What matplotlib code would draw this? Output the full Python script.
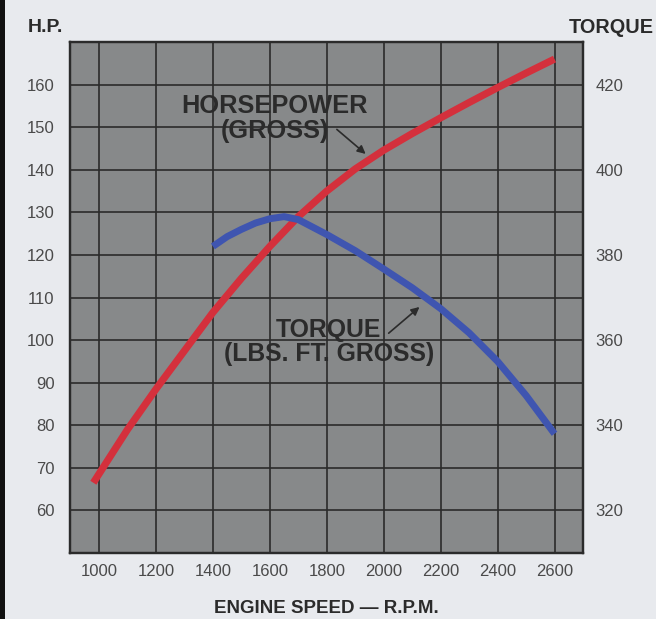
import matplotlib
matplotlib.use("Agg")
from matplotlib import pyplot as plt
from matplotlib.patches import Rectangle

plt.rcParams['font.family'] = ['Liberation Sans', 'DejaVu Sans']

# horsepower (gross) vs engine speed
hp_rpm = [980, 1100, 1200, 1300, 1400, 1500, 1600, 1700, 1800, 1900,
          2000, 2100, 2200, 2300, 2400, 2500, 2600]
hp_vals = [66.5, 79, 88.5, 97.5, 106.5, 114.5, 122, 129, 135, 140.2,
           144.6, 148.5, 152.2, 155.8, 159.3, 162.7, 166]

# torque (lbs. ft. gross) vs engine speed
tq_rpm = [1400, 1450, 1500, 1550, 1600, 1650, 1700, 1800, 1900, 2000,
          2100, 2200, 2300, 2400, 2500, 2600]
tq_vals = [382, 384.3, 386, 387.5, 388.5, 389, 388.3, 384.8, 381, 376.7,
           372.3, 367.4, 361.7, 355, 347, 338]

x_ticks = [1000, 1200, 1400, 1600, 1800, 2000, 2200, 2400, 2600]
hp_ticks = [60, 70, 80, 90, 100, 110, 120, 130, 140, 150, 160]
tq_ticks = [320, 340, 360, 380, 400, 420]

bg = '#e8eaee'
plot_bg = '#87898a'
ink = '#2b2b2b'
tick_col = '#4a4a4a'

fig = plt.figure(figsize=(6.56, 6.19), dpi=100, facecolor=bg)
ax = fig.add_axes([0.1067, 0.1066, 0.7820, 0.8255])
ax.set_facecolor(plot_bg)
ax2 = ax.twinx()

# dark strip on the left edge of the scan
fig.patches.append(Rectangle((0, 0), 0.008, 1, transform=fig.transFigure,
                             facecolor='#111111', edgecolor='none'))

ax.plot(hp_rpm, hp_vals, color='#d4303c', lw=5.2, solid_capstyle='butt',
        solid_joinstyle='round', zorder=3)
ax2.plot(tq_rpm, tq_vals, color='#3f55b0', lw=5.0, solid_capstyle='butt',
         solid_joinstyle='round', zorder=3)

ax.set_xlim(898, 2700)
ax.set_ylim(50, 170)
ax2.set_ylim(310, 430)

ax.set_xticks(x_ticks)
ax.set_yticks(hp_ticks)
ax2.set_yticks(tq_ticks)
ax.grid(True, color=ink, lw=1.2)

ax.tick_params(axis='x', length=0, pad=8, labelsize=12, labelcolor=tick_col)
ax.tick_params(axis='y', length=0, pad=11, labelsize=12, labelcolor=tick_col)
ax2.tick_params(axis='y', length=0, pad=9, labelsize=12, labelcolor=tick_col)

for a in (ax, ax2):
    for s in a.spines.values():
        s.set_color(ink)
        s.set_linewidth(1.6)

ax.text(1618, 152.1, 'HORSEPOWER\n(GROSS)', ha='center', va='center',
        multialignment='center', fontsize=18.3, fontweight='bold',
        color=ink, linespacing=1.05, zorder=5)
ax.annotate('', xy=(1944, 143.3), xytext=(1828, 149.9),
            arrowprops=dict(arrowstyle='-|>', color=ink, lw=1.2,
                            mutation_scale=12))

ax2.text(1807, 359.6, 'TORQUE\n(LBS. FT. GROSS)', ha='center', va='center',
         multialignment='center', fontsize=17.8, fontweight='bold',
         color=ink, linespacing=1.0, zorder=5)
ax2.annotate('', xy=(2133, 368.2), xytext=(2010, 361.2),
             arrowprops=dict(arrowstyle='-|>', color=ink, lw=1.2,
                             mutation_scale=12))

fig.text(0.043, 0.955, 'H.P.', ha='left', va='center', fontsize=14,
         fontweight='bold', color=ink)
fig.text(0.996, 0.955, 'TORQUE', ha='right', va='center', fontsize=14.3,
         fontweight='bold', color=ink)
fig.text(0.498, 0.003, 'ENGINE SPEED \u2014 R.P.M.', ha='center', va='bottom',
         fontsize=13.5, fontweight='bold', color=ink)

fig.savefig('out.png', dpi=100, facecolor=bg)
